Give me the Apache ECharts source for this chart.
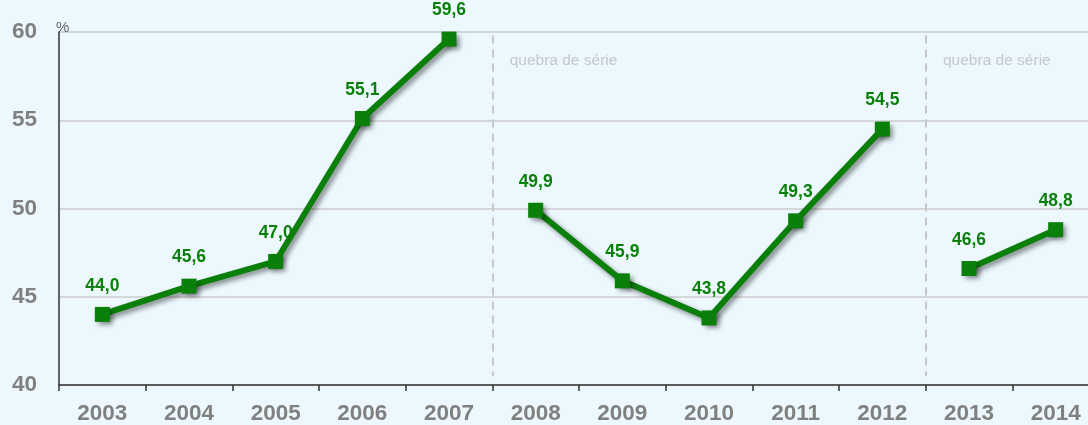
<!DOCTYPE html>
<html>
<head>
<meta charset="utf-8">
<script src="https://cdn.jsdelivr.net/npm/echarts@6/dist/echarts.min.js"></script>
<style>
html,body{margin:0;padding:0;background:#ecf8fe;overflow:hidden;width:1088px;height:425px;}
#wrap{position:relative;width:1088px;height:425px;overflow:hidden;}
#c{position:absolute;left:0;top:0;width:1100px;height:425px;}
</style>
</head>
<body>
<div id="wrap"><div id="c"></div></div>
<script>
const years = ['2003','2004','2005','2006','2007','2008','2009','2010','2011','2012','2013','2014'];
const values = [44.0, 45.6, 47.0, 55.1, 59.6, 49.9, 45.9, 43.8, 49.3, 54.5, 46.6, 48.8];
const segments = [[0,4],[5,9],[10,11]];
const breaks = [5, 10];
const breakLabel = 'quebra de série';
const yTicks = [40, 45, 50, 55, 60];

const green = '#0a800a';
function segData(s){
  return values.map((v,i)=> (i>=s[0] && i<=s[1]) ? v : '-');
}
const lineSeries = segments.map(s => ({
  type:'line',
  data: segData(s),
  symbol:'rect',
  symbolSize:15,
  lineStyle:{color:green,width:6,shadowColor:'rgba(0,0,0,0.45)',shadowBlur:5,shadowOffsetX:3,shadowOffsetY:3},
  itemStyle:{color:green,shadowColor:'rgba(0,0,0,0.45)',shadowBlur:5,shadowOffsetX:3,shadowOffsetY:3},
  label:{show:true,position:'top',distance:12,color:green,fontWeight:'bold',fontSize:17.5,fontFamily:'Liberation Sans',
    formatter:p=>p.value.toFixed(1).replace('.',',')},
  z:3
}));

const option = {
  backgroundColor:'#ecf8fe',
  animation:false,
  grid:{left:59,top:32,width:1040,height:355,containLabel:false},
  xAxis:[{
    type:'category',data:years,boundaryGap:true,
    axisLine:{lineStyle:{color:'#333',width:1.5}},
    axisTick:{show:true,length:6,lineStyle:{color:'#333',width:1.5}},
    axisLabel:{color:'#808080',fontWeight:'bold',fontSize:22.5,fontFamily:'Liberation Sans',margin:17},
    splitLine:{show:false}
  },{
    type:'value',min:0,max:12,show:false
  }],
  yAxis:{
    type:'value',min:yTicks[0],max:yTicks[yTicks.length-1],interval:5,
    name:'%',nameLocation:'end',nameGap:0,
    nameTextStyle:{color:'#666666',fontSize:15,fontFamily:'Liberation Sans',align:'left',verticalAlign:'bottom',padding:[0,0,-3,-3]},
    axisLine:{show:true,lineStyle:{color:'#333',width:1.5}},
    axisTick:{show:false},
    axisLabel:{color:'#808080',fontWeight:'bold',fontSize:22.5,fontFamily:'Liberation Sans',margin:22},
    splitLine:{lineStyle:{color:'#cccccc',width:1.5}}
  },
  series:[
    ...lineSeries,
    {
      type:'scatter',xAxisIndex:1,yAxisIndex:0,
      data: breaks.map(b=>[b+0.2,58.4]),
      symbolSize:0,
      label:{show:true,position:'right',distance:0,formatter:breakLabel,color:'#bbbbbb',fontSize:15.5,fontFamily:'Liberation Sans'},
      markLine:{
        silent:true,symbol:['none','none'],
        label:{show:false},
        lineStyle:{color:'#c8c8c8',width:2,type:[8,6]},
        data: breaks.map(b=>[{coord:[b,59.8]},{coord:[b,40.5]}])
      },
      z:1
    }
  ]
};
const chart = echarts.init(document.getElementById('c'));
chart.setOption(option);
</script>
</body>
</html>
